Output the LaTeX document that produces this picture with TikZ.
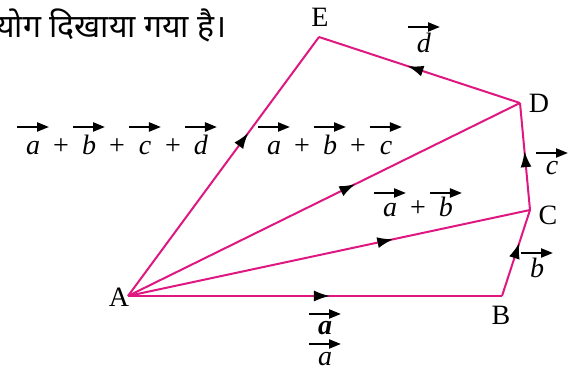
\documentclass[tikz,border=0pt]{standalone}
\usepackage{fontspec}
\setmainfont{Liberation Serif}
\newfontfamily\devfont[Script=Devanagari]{Noto Sans}
\usetikzlibrary{arrows.meta,decorations.markings}

\definecolor{edgepink}{RGB}{222,24,128}
% vector letter with a bold arrow over it
\newcommand{\vlab}[2][12]{\tikz[baseline=0pt,x=1pt,y=1pt]{%
  \node[anchor=base,inner sep=0pt] (vl) at (0,0) {#2};
  \draw[line width=1.1pt,-{Triangle[length=6pt,width=4.5pt]}] (-8,#1) -- (8,#1);}}
\newcommand{\vplus}{\hspace{1.5pt}+\hspace{1.5pt}}

\begin{document}
\begin{tikzpicture}[
  x=0.5pt, y=-0.5pt,
  side/.style={draw=edgepink, line width=1pt},
  midarrow/.style={postaction={decorate, decoration={markings,
      mark=at position #1 with {\arrow[black]{Latex[length=8pt,width=5.5pt]}}}}},
  pt/.style={font=\fontsize{14}{16}\selectfont, anchor=base, inner sep=0pt},
]
\useasboundingbox (0,0) rectangle (579,367);

% vertices of the polygon
\coordinate (A) at (128,296);
\coordinate (B) at (502,296);
\coordinate (C) at (530,210);
\coordinate (D) at (520,103);
\coordinate (E) at (319,37);

% sides
\draw[side, midarrow=0.54] (A) -- (B);
\draw[side, midarrow=0.62] (B) -- (C);
\draw[side, midarrow=0.55] (C) -- (D);
\draw[side, midarrow=0.56] (D) -- (E);
\draw[side, midarrow=0.63] (A) -- (E);
\draw[side, midarrow=0.66] (A) -- (C);
\draw[side, midarrow=0.58] (A) -- (D);

% vertex labels
\node[pt] (lA) at (119,307) {A};
\node[pt] (lB) at (501,325) {B};
\node[pt] (lC) at (548,225) {C};
\node[pt] (lD) at (539,113) {D};
\node[pt] (lE) at (320,27) {E};

% vector labels
\node[pt] (va) at (325,335) {\vlab[10.5]{\textbf{\textit{a}}}};
\node[pt] (vaa) at (325,366) {\vlab[11]{\textit{a}}};
\node[pt] (vb) at (537,278) {\vlab[12.5]{\textit{b}}};
\node[pt] (vc) at (552,175) {\vlab[11]{\textit{c}}};
\node[pt] (vd) at (424,53) {\vlab[13]{\textit{d}}};
\node[pt] (vab) at (418,217) {\vlab{\textit{a}}\vplus\vlab{\textit{b}}};
\node[pt] (vabc) at (330,155) {\vlab[14]{\textit{a}}\vplus\vlab[14]{\textit{b}}\vplus\vlab[14]{\textit{c}}};
\node[pt] (vabcd) at (117,155) {\vlab[14]{\textit{a}}\vplus\vlab[14]{\textit{b}}\vplus\vlab[14]{\textit{c}}\vplus\vlab[14]{\textit{d}}};

% caption text
\node[pt, anchor=base east, font=\fontsize{16}{18}\selectfont] (cap) at (227,38) {\devfont योग दिखाया गया है।};
\end{tikzpicture}
\end{document}
